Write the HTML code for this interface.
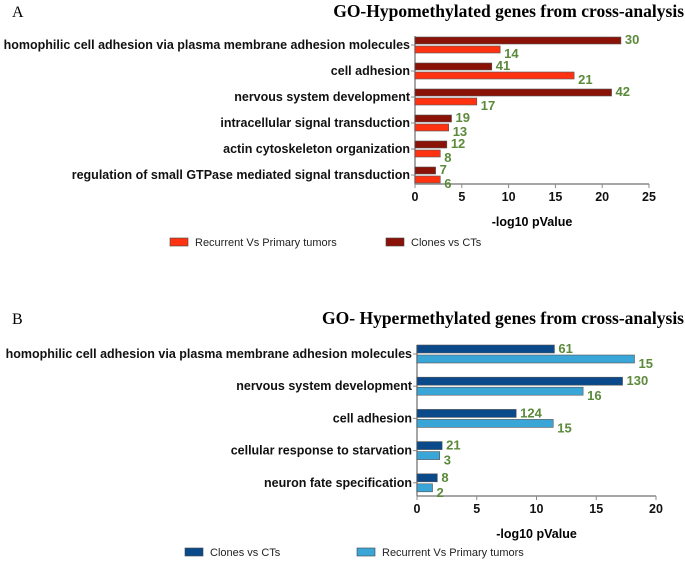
<!DOCTYPE html>
<html><head><meta charset="utf-8"><style>
body{margin:0;background:#fff;width:685px;height:561px;overflow:hidden}
svg{font-family:"Liberation Sans",sans-serif}
.lab{font-weight:bold;font-size:12.5px;fill:#111;text-anchor:end}
.tick{font-weight:bold;font-size:12.5px;fill:#111;text-anchor:middle}
.val{font-weight:bold;font-size:13px;fill:#5a8a3a}
.ttl{font-family:"Liberation Serif",serif;font-weight:bold;font-size:17.5px;fill:#000;text-anchor:end}
.leg{font-size:11px;fill:#222}
</style></head><body>
<svg id="s" width="685" height="561">
<text x="12" y="17" font-family="Liberation Serif" font-size="16">A</text>
<text class="ttl" x="684" y="17">GO-Hypomethylated genes from cross-analysis</text>
<text x="12" y="324" font-family="Liberation Serif" font-size="16">B</text>
<text class="ttl" x="684" y="324">GO- Hypermethylated genes from cross-analysis</text>
</svg>
<script>
const catsA=["homophilic cell adhesion via plasma membrane adhesion molecules","cell adhesion","nervous system development","intracellular signal transduction","actin cytoskeleton organization","regulation of small GTPase mediated signal transduction"];
const clonesA=[22,8.2,21,3.9,3.4,2.2];
const recurA=[9.1,17,6.6,3.6,2.7,2.7];
const clonesALbl=["30","41","42","19","12","7"];
const recurALbl=["14","21","17","13","8","6"];
const ticksA=[0,5,10,15,20,25];
const catsB=["homophilic cell adhesion via plasma membrane adhesion molecules","nervous system development","cell adhesion","cellular response to starvation","neuron fate specification"];
const clonesB=[11.5,17.2,8.3,2.1,1.7];
const recurB=[18.2,13.9,11.4,1.9,1.3];
const clonesBLbl=["61","130","124","21","8"];
const recurBLbl=["15","16","15","3","2"];
const ticksB=[0,5,10,15,20];
const s=document.getElementById('s');
const NS="http://www.w3.org/2000/svg";
function el(t,a,txt){const e=document.createElementNS(NS,t);for(const k in a)e.setAttribute(k,a[k]);if(txt!=null)e.textContent=txt;s.appendChild(e);return e;}
function panel(p,cats,topV,botV,topL,botL,ticks,topCol,botCol){
  const x=v=>p.x0+v*(p.x1-p.x0)/ticks[ticks.length-1];
  el('line',{x1:p.x0,y1:p.y0-9,x2:p.x0,y2:p.yb,stroke:'#888','stroke-width':1.5});
  el('line',{x1:p.x0,y1:p.yb,x2:p.x1,y2:p.yb,stroke:'#888','stroke-width':1.5});
  ticks.forEach(t=>{
    el('line',{x1:x(t),y1:p.yb,x2:x(t),y2:p.yb+4,stroke:'#888'});
    const e=el('text',{class:'tick',x:x(t),y:p.yb+17},t);
    
    
  });
  cats.forEach((c,i)=>{
    const cy=p.y0+i*p.pitch;
    el('line',{x1:p.x0-4,y1:cy,x2:p.x0,y2:cy,stroke:'#888'});
    const l=el('text',{class:'lab',x:p.x0-5,y:cy+4},c);
    
    
    const b1=el('rect',{x:p.x0,y:cy-p.bh-1,width:x(topV[i])-p.x0,height:p.bh,fill:topCol,stroke:'#555','stroke-width':0.6});
    
    
    const b2=el('rect',{x:p.x0,y:cy+1,width:x(botV[i])-p.x0,height:p.bh,fill:botCol,stroke:'#555','stroke-width':0.6});
    
    
    const t1=el('text',{class:'val',x:x(topV[i])+4,y:cy-1},topL[i]);
    
    
    const t2=el('text',{class:'val',x:x(botV[i])+4,y:cy+p.bh+6},botL[i]);
    
    
  });
  const at=el('text',{x:(p.x0+p.x1)/2,y:p.yb+42,'font-weight':'bold','font-size':12.5,'text-anchor':'middle'},'-log10 pValue');
  
  
  p.leg.forEach(g=>{
    const r=el('rect',{x:g[0],y:p.ly-5,width:18,height:8,fill:g[2],stroke:'#444','stroke-width':0.6});
    
    
    const t=el('text',{class:'leg',x:g[0]+25,y:p.ly+3},g[1]);
    
    
  });
}
panel({x0:415,x1:649,y0:45,pitch:26,bh:7,yb:184,ly:243,leg:[[170,'Recurrent Vs Primary tumors','#ff3311'],[386,'Clones vs CTs','#8b1206']]},
  catsA,clonesA,recurA,clonesALbl,recurALbl,ticksA,'#8b1206','#ff3311');
panel({x0:417,x1:656,y0:354,pitch:32.2,bh:8,yb:496,ly:553,leg:[[185,'Clones vs CTs','#0a4a8a'],[357,'Recurrent Vs Primary tumors','#3aa6d8']]},
  catsB,clonesB,recurB,clonesBLbl,recurBLbl,ticksB,'#0a4a8a','#3aa6d8');
</script>
</body></html>
